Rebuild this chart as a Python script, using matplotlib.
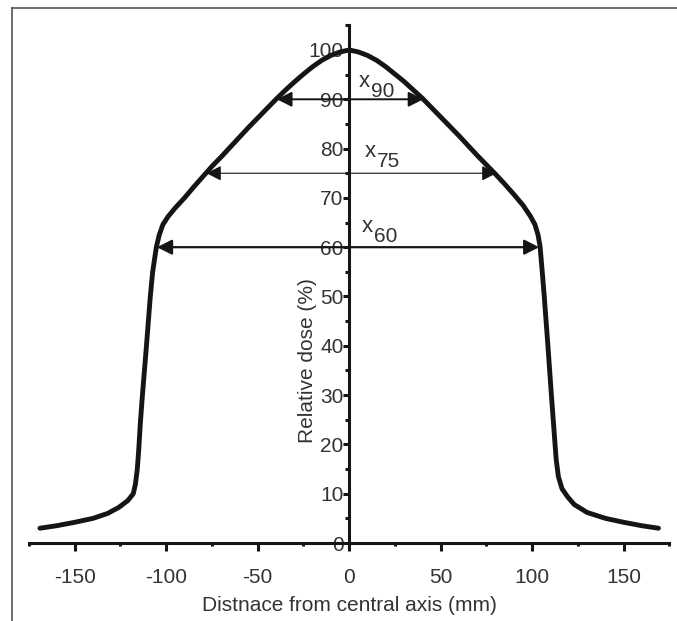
import matplotlib
matplotlib.use("Agg")
import matplotlib.pyplot as plt
from matplotlib.lines import Line2D
from matplotlib.ticker import MultipleLocator

plt.rcParams['font.family'] = ['Liberation Sans', 'DejaVu Sans']
plt.rcParams['axes.unicode_minus'] = False

# beam profile, left half then right half (distance in mm, dose in %)
dist_mm = [-169, -160, -150, -140, -132, -126, -121, -118, -116.8, -115.8,
           -115.0, -114.2, -113.0, -110.8, -108.7, -107.4, -105.4, -103.8,
           -101.8, -99, -95, -90, -85, -80, -75, -70, -65, -60, -55, -50,
           -45, -40, -35, -30, -25, -20, -15, -10, -5, 0,
           5, 10, 15, 20, 25, 30, 35, 40, 45, 50, 55, 60, 65, 70, 75, 80,
           85, 90, 95, 99, 101.5, 103.2, 104.3, 105.5, 106.6, 108.6, 110.5,
           112.1, 113.1, 114.3, 116.3, 119.5, 123, 130, 140, 150, 160, 169]
dose_pct = [3.0, 3.5, 4.2, 5.0, 6.0, 7.2, 8.6, 10.0, 12.0, 15.0,
            19.0, 24.0, 30.0, 40.0, 50.0, 55.0, 60.0, 62.5,
            64.6, 66.2, 68.0, 70.0, 72.2, 74.3, 76.4, 78.3, 80.3, 82.3, 84.3, 86.2,
            88.1, 90.0, 91.8, 93.5, 95.1, 96.6, 97.9, 98.9, 99.6, 100.0,
            99.6, 98.9, 97.9, 96.6, 95.1, 93.6, 91.9, 90.2, 88.3, 86.4, 84.5, 82.6,
            80.6, 78.6, 76.7, 74.8, 72.8, 70.7, 68.5, 66.3, 64.6, 62.5, 60.2,
            55.0, 50.0, 40.0, 30.0, 22.0, 17.0, 13.5, 11.0, 9.3, 7.8, 6.2,
            5.0, 4.2, 3.5, 3.0]

# field width markers: level, left edge, right edge, line width
width_levels = [90, 75, 60]
width_left = [-39.5, -78, -105]
width_right = [40.5, 80.5, 103.8]
width_lw = [1.4, 0.8, 1.6]
width_names = ['90', '75', '60']
name_pos = [(5, 92.5, 12, 90.5), (8.7, 78.3, 15.3, 76.3), (7, 63.1, 13.7, 61.0)]

ink = '#151515'
txt = '#333333'

fig = plt.figure(figsize=(6.77, 6.21), dpi=100)
ax = fig.add_axes([0.0428, 0.1256, 0.946, 0.8336])

ax.plot(dist_mm, dose_pct, color=ink, lw=3.5, solid_joinstyle='round',
        solid_capstyle='round', zorder=3)

for lev, xl, xr, lw in zip(width_levels, width_left, width_right, width_lw):
    ax.annotate('', xy=(xr, lev), xytext=(xl, lev),
                arrowprops=dict(arrowstyle='<|-|>,head_length=0.75,head_width=0.38',
                                mutation_scale=12, color=ink, lw=lw,
                                shrinkA=0, shrinkB=0), zorder=4)

for nm, (xx, xy, nx, ny) in zip(width_names, name_pos):
    ax.text(xx, xy, 'x', fontsize=16, color=txt, va='baseline', ha='left')
    ax.text(nx, ny, nm, fontsize=15, color=txt, va='baseline', ha='left')

ax.set_xlim(-175, 175)
ax.set_ylim(0, 105)

ax.spines['left'].set_position(('data', 0))
ax.spines['bottom'].set_position(('data', 0))
ax.spines['top'].set_visible(False)
ax.spines['right'].set_visible(False)
for s in ('left', 'bottom'):
    ax.spines[s].set_linewidth(2.2)
    ax.spines[s].set_color(ink)
    ax.spines[s].set_zorder(2)

ax.xaxis.set_major_locator(MultipleLocator(50))
ax.xaxis.set_minor_locator(MultipleLocator(25))
ax.yaxis.set_major_locator(MultipleLocator(10))
ax.yaxis.set_minor_locator(MultipleLocator(5))

ax.tick_params(axis='x', which='major', direction='out', length=6, width=2.2,
               color=ink, labelsize=15, labelcolor=txt, pad=12)
ax.tick_params(axis='x', which='minor', direction='out', length=2.5, width=2.2,
               color=ink)
ax.tick_params(axis='y', which='major', direction='out', length=4, width=2.2,
               color=ink, labelsize=15, labelcolor=txt, pad=0)
ax.tick_params(axis='y', which='minor', direction='out', length=3, width=2.2,
               color=ink)

ax.text(-23, 37, 'Relative dose (%)', rotation=90, fontsize=15, color=txt,
        ha='center', va='center')
ax.text(0, -12.6, 'Distnace from central axis (mm)', fontsize=15, color=txt,
        ha='center', va='center', clip_on=False)

# frame lines at the top and left of the figure
fig.add_artist(Line2D([12 / 677, 1], [1 - 8 / 621, 1 - 8 / 621],
                      transform=fig.transFigure, color='#555555', lw=1.2))
fig.add_artist(Line2D([12 / 677, 12 / 677], [0, 1 - 8 / 621],
                      transform=fig.transFigure, color='#555555', lw=1.2))

fig.savefig('out.png', dpi=100)
